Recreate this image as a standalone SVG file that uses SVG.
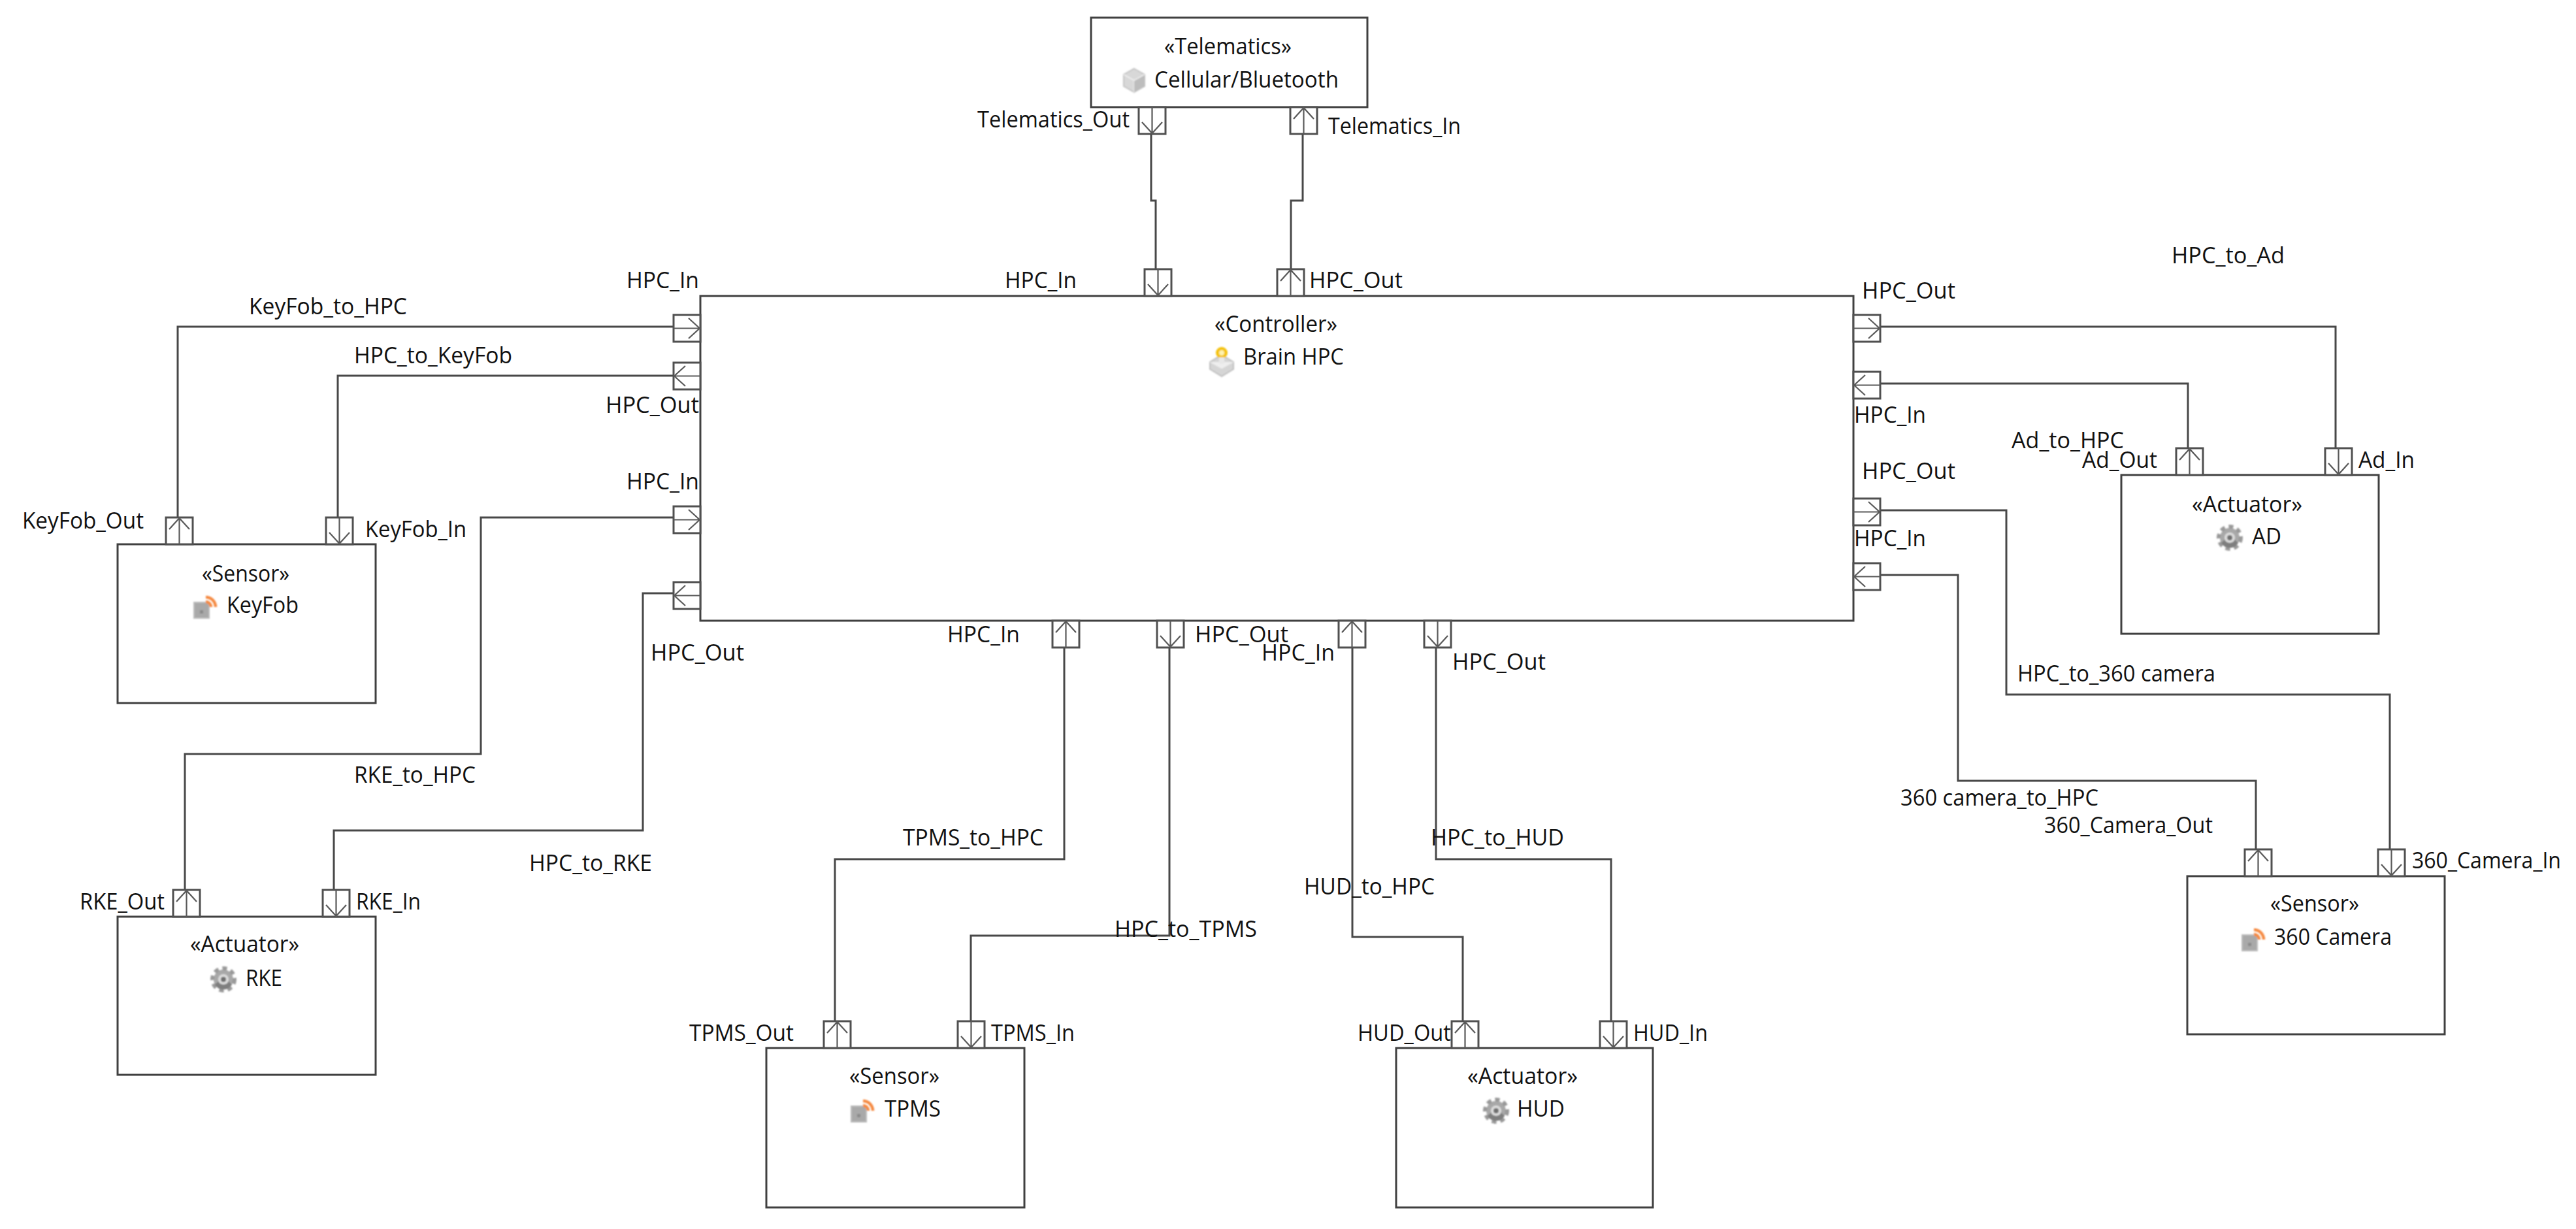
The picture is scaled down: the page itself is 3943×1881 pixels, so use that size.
<svg xmlns="http://www.w3.org/2000/svg" width="3943" height="1881" viewBox="0 0 3943 1881">
<style>
text{font-family:"Open Sans","Liberation Sans",sans-serif;font-size:35px;fill:#111}
.box{fill:#fff;stroke:#404040;stroke-width:3}
.port rect{fill:#fff;stroke:#505050;stroke-width:3}
.port path{fill:none;stroke:#5a5a5a;stroke-width:2.2}
.conn{fill:none;stroke:#484848;stroke-width:3}
</style>
<defs>
<filter id="soft" x="-20%" y="-20%" width="140%" height="140%"><feGaussianBlur stdDeviation="0.9"/></filter>
<g id="pd" class="port"><rect width="41" height="41"/><path d="M20.5 0V40M5 23L20.5 40L36 23"/></g>
<g id="pu" class="port"><rect width="41" height="41"/><path d="M20.5 41V1M5 18L20.5 1L36 18"/></g>
<g id="pl" class="port"><rect width="41" height="41"/><path d="M41 20.5H1M18 5L1 20.5L18 36"/></g>
<g id="pr" class="port"><rect width="41" height="41"/><path d="M0 20.5H40M23 5L40 20.5L23 36"/></g>
<g id="cube" filter="url(#soft)"><path d="M0-18L16-9V9L0 18L-16 9V-9Z" fill="#d8d8d8" stroke="#c4c4c4" stroke-width="2"/><path d="M-16-9L0 0L16-9M0 0V18" fill="none" stroke="#eee" stroke-width="2"/><path d="M0 1L16-8V9L0 18Z" fill="#bdbdbd"/></g>
<g id="bulb" filter="url(#soft)"><path d="M0-6L18 5V16L0 27L-18 16V5Z" fill="#d5d5d5" stroke="#c0c0c0" stroke-width="2"/><path d="M-18 5L0 15L18 5" fill="#eee" stroke="#eee"/><circle cy="-9" r="9" fill="#f4c20d"/><circle cy="-9" r="4" fill="#fff3b0"/><rect x="-4" y="-2" width="8" height="10" fill="#e8e8e8"/></g>
<g id="sensor" filter="url(#soft)"><rect y="12" width="23" height="24" fill="#a9a9a9" stroke="#bbb" stroke-width="2"/><rect x="9" y="24" width="5" height="5" fill="#8a8a8a"/><path d="M18 11A8 8 0 0 1 26 19M18 4A15 15 0 0 1 33 19" fill="none" stroke="#f58a42" stroke-width="4.5"/></g>
<g id="gear" filter="url(#soft)"><circle r="15" fill="#a8a8a8"/><circle r="17" fill="none" stroke="#999" stroke-width="6" stroke-dasharray="7 6"/><circle r="8" fill="#dcdcdc"/><circle r="4" fill="#6e6e6e"/><path d="M-13 8A15 15 0 0 0 13 8L8 3A9 9 0 0 1-8 3Z" fill="#7e7e7e"/></g>
</defs>
<rect width="3943" height="1881" fill="#fff"/>

<g id="connectors">
<path class="conn" d="M1762 204V307H1769V412"/>
<path class="conn" d="M1976 412V307H1994V204"/>
<path class="conn" d="M272 792V500H1031"/>
<path class="conn" d="M1031 575H517V792"/>
<path class="conn" d="M1031 792H736V1154H283V1362"/>
<path class="conn" d="M1031 908H984V1271H511V1362"/>
<path class="conn" d="M1629 991V1315H1278V1563"/>
<path class="conn" d="M1790 991V1432H1486V1563"/>
<path class="conn" d="M2070 991V1434H2239V1563"/>
<path class="conn" d="M2198 991V1315H2466V1563"/>
<path class="conn" d="M2878 500H3575V686"/>
<path class="conn" d="M2878 587H3349V686"/>
<path class="conn" d="M2878 781H3071V1063H3658V1300"/>
<path class="conn" d="M2878 880H2997V1195H3453V1300"/>
<text x="381" y="481" textLength="242" lengthAdjust="spacingAndGlyphs">KeyFob_to_HPC</text>
<text x="542" y="556" textLength="242" lengthAdjust="spacingAndGlyphs">HPC_to_KeyFob</text>
<text x="542" y="1198" textLength="186" lengthAdjust="spacingAndGlyphs">RKE_to_HPC</text>
<text x="810" y="1333" textLength="188" lengthAdjust="spacingAndGlyphs">HPC_to_RKE</text>
<text x="1382" y="1294" textLength="215" lengthAdjust="spacingAndGlyphs">TPMS_to_HPC</text>
<text x="1706" y="1434" textLength="218" lengthAdjust="spacingAndGlyphs">HPC_to_TPMS</text>
<text x="1996" y="1369" textLength="200" lengthAdjust="spacingAndGlyphs">HUD_to_HPC</text>
<text x="2190" y="1294" textLength="204" lengthAdjust="spacingAndGlyphs">HPC_to_HUD</text>
<text x="3324" y="403" textLength="173" lengthAdjust="spacingAndGlyphs">HPC_to_Ad</text>
<text x="3079" y="686" textLength="172" lengthAdjust="spacingAndGlyphs">Ad_to_HPC</text>
<text x="3088" y="1043" textLength="303" lengthAdjust="spacingAndGlyphs">HPC_to_360 camera</text>
<text x="2909" y="1233" textLength="303" lengthAdjust="spacingAndGlyphs">360 camera_to_HPC</text>
</g>

<g id="node-telematics">
<rect class="box" x="1670" y="27" width="423" height="137"/>
<text x="1782" y="83" textLength="195" lengthAdjust="spacingAndGlyphs">«Telematics»</text>
<use href="#cube" x="1736" y="123"/>
<text x="1767" y="134" textLength="282" lengthAdjust="spacingAndGlyphs">Cellular/Bluetooth</text>
<use href="#pd" x="1743" y="164"/><use href="#pu" x="1975" y="164"/>
<text x="1496" y="195" textLength="233" lengthAdjust="spacingAndGlyphs">Telematics_Out</text>
<text x="2033" y="205" textLength="203" lengthAdjust="spacingAndGlyphs">Telematics_In</text>
</g>

<g id="node-brain-hpc">
<rect class="box" x="1072" y="453" width="1765" height="497"/>
<text x="1859" y="508" textLength="188" lengthAdjust="spacingAndGlyphs">«Controller»</text>
<use href="#bulb" x="1870" y="549"/>
<text x="1903" y="558" textLength="154" lengthAdjust="spacingAndGlyphs">Brain HPC</text>
<use href="#pd" x="1752" y="412"/><use href="#pu" x="1955" y="412"/>
<use href="#pr" x="1031" y="482"/><use href="#pl" x="1031" y="555"/><use href="#pr" x="1031" y="775"/><use href="#pl" x="1031" y="891"/>
<use href="#pr" x="2837" y="482"/><use href="#pl" x="2837" y="569"/><use href="#pr" x="2837" y="763"/><use href="#pl" x="2837" y="862"/>
<use href="#pu" x="1611" y="950"/><use href="#pd" x="1771" y="950"/><use href="#pu" x="2049" y="950"/><use href="#pd" x="2180" y="950"/>
<text x="1538" y="441" textLength="110" lengthAdjust="spacingAndGlyphs">HPC_In</text>
<text x="2004" y="441" textLength="143" lengthAdjust="spacingAndGlyphs">HPC_Out</text>
<text x="959" y="441" textLength="111" lengthAdjust="spacingAndGlyphs">HPC_In</text>
<text x="927" y="632" textLength="143" lengthAdjust="spacingAndGlyphs">HPC_Out</text>
<text x="959" y="749" textLength="111" lengthAdjust="spacingAndGlyphs">HPC_In</text>
<text x="996" y="1011" textLength="143" lengthAdjust="spacingAndGlyphs">HPC_Out</text>
<text x="2850" y="457" textLength="143" lengthAdjust="spacingAndGlyphs">HPC_Out</text>
<text x="2838" y="647" textLength="110" lengthAdjust="spacingAndGlyphs">HPC_In</text>
<text x="2850" y="733" textLength="143" lengthAdjust="spacingAndGlyphs">HPC_Out</text>
<text x="2838" y="836" textLength="110" lengthAdjust="spacingAndGlyphs">HPC_In</text>
<text x="1450" y="983" textLength="111" lengthAdjust="spacingAndGlyphs">HPC_In</text>
<text x="1829" y="983" textLength="143" lengthAdjust="spacingAndGlyphs">HPC_Out</text>
<text x="1931" y="1011" textLength="112" lengthAdjust="spacingAndGlyphs">HPC_In</text>
<text x="2223" y="1025" textLength="143" lengthAdjust="spacingAndGlyphs">HPC_Out</text>
</g>

<g id="node-keyfob">
<rect class="box" x="180" y="833" width="395" height="243"/>
<text x="309" y="890" textLength="134" lengthAdjust="spacingAndGlyphs">«Sensor»</text>
<use href="#sensor" x="297" y="910"/>
<text x="347" y="938" textLength="110" lengthAdjust="spacingAndGlyphs">KeyFob</text>
<use href="#pu" x="254" y="792"/><use href="#pd" x="499" y="792"/>
<text x="34" y="809" textLength="186" lengthAdjust="spacingAndGlyphs">KeyFob_Out</text>
<text x="559" y="822" textLength="155" lengthAdjust="spacingAndGlyphs">KeyFob_In</text>
</g>

<g id="node-rke">
<rect class="box" x="180" y="1403" width="395" height="242"/>
<text x="291" y="1457" textLength="167" lengthAdjust="spacingAndGlyphs">«Actuator»</text>
<use href="#gear" x="342" y="1499"/>
<text x="376" y="1509" textLength="56" lengthAdjust="spacingAndGlyphs">RKE</text>
<use href="#pu" x="265" y="1362"/><use href="#pd" x="494" y="1362"/>
<text x="122" y="1392" textLength="130" lengthAdjust="spacingAndGlyphs">RKE_Out</text>
<text x="545" y="1392" textLength="99" lengthAdjust="spacingAndGlyphs">RKE_In</text>
</g>

<g id="node-tpms">
<rect class="box" x="1173" y="1604" width="395" height="244"/>
<text x="1300" y="1659" textLength="138" lengthAdjust="spacingAndGlyphs">«Sensor»</text>
<use href="#sensor" x="1303" y="1681"/>
<text x="1354" y="1709" textLength="86" lengthAdjust="spacingAndGlyphs">TPMS</text>
<use href="#pu" x="1261" y="1563"/><use href="#pd" x="1466" y="1563"/>
<text x="1055" y="1593" textLength="160" lengthAdjust="spacingAndGlyphs">TPMS_Out</text>
<text x="1517" y="1593" textLength="128" lengthAdjust="spacingAndGlyphs">TPMS_In</text>
</g>

<g id="node-hud">
<rect class="box" x="2137" y="1604" width="393" height="244"/>
<text x="2246" y="1659" textLength="169" lengthAdjust="spacingAndGlyphs">«Actuator»</text>
<use href="#gear" x="2290" y="1700"/>
<text x="2322" y="1709" textLength="73" lengthAdjust="spacingAndGlyphs">HUD</text>
<use href="#pu" x="2222" y="1563"/><use href="#pd" x="2449" y="1563"/>
<text x="2078" y="1593" textLength="143" lengthAdjust="spacingAndGlyphs">HUD_Out</text>
<text x="2500" y="1593" textLength="114" lengthAdjust="spacingAndGlyphs">HUD_In</text>
</g>

<g id="node-ad">
<rect class="box" x="3247" y="727" width="394" height="243"/>
<text x="3355" y="784" textLength="169" lengthAdjust="spacingAndGlyphs">«Actuator»</text>
<use href="#gear" x="3413" y="823"/>
<text x="3447" y="833" textLength="45" lengthAdjust="spacingAndGlyphs">AD</text>
<use href="#pu" x="3331" y="686"/><use href="#pd" x="3559" y="686"/>
<text x="3187" y="716" textLength="115" lengthAdjust="spacingAndGlyphs">Ad_Out</text>
<text x="3610" y="716" textLength="86" lengthAdjust="spacingAndGlyphs">Ad_In</text>
</g>

<g id="node-360-camera">
<rect class="box" x="3348" y="1341" width="394" height="242"/>
<text x="3475" y="1395" textLength="136" lengthAdjust="spacingAndGlyphs">«Sensor»</text>
<use href="#sensor" x="3432" y="1419"/>
<text x="3481" y="1446" textLength="180" lengthAdjust="spacingAndGlyphs">360 Camera</text>
<use href="#pu" x="3436" y="1300"/><use href="#pd" x="3640" y="1300"/>
<text x="3129" y="1275" textLength="258" lengthAdjust="spacingAndGlyphs">360_Camera_Out</text>
<text x="3692" y="1329" textLength="228" lengthAdjust="spacingAndGlyphs">360_Camera_In</text>
</g>
</svg>
